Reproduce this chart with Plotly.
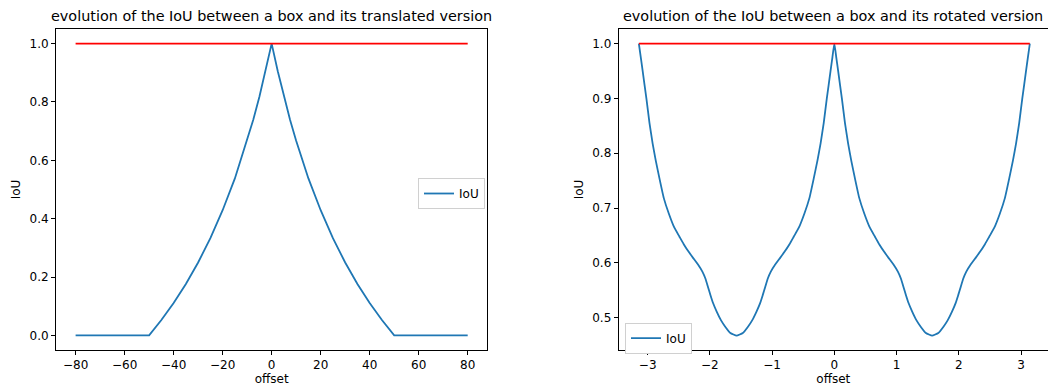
import plotly.graph_objects as go

# ---- data: translated box ----
trans_offset = [-80, -70, -60, -50, -45, -40, -35, -30, -25, -20, -15, -10, -7.5, -5, -2.5, 0,
                2.5, 5, 7.5, 10, 15, 20, 25, 30, 35, 40, 45, 50, 60, 70, 80]
trans_iou = [0.0, 0.0, 0.0, 0.0, 0.053, 0.111, 0.176, 0.25, 0.333, 0.429, 0.538, 0.667, 0.739, 0.818, 0.905, 1.0,
             0.905, 0.818, 0.739, 0.667, 0.538, 0.429, 0.333, 0.25, 0.176, 0.111, 0.053, 0.0, 0.0, 0.0, 0.0]
trans_ref_x = [-80, 80]
trans_ref_y = [1.0, 1.0]

# ---- data: rotated box ----
rot_offset = [-3.142, -3.111, -3.081, -3.021, -2.971, -2.921, -2.871, -2.811, -2.741, -2.661, -2.571, -2.491,
              -2.421, -2.341, -2.271, -2.181, -2.121, -2.071, -2.031, -1.991, -1.951, -1.891, -1.821, -1.751,
              -1.671, -1.571,
              -1.471, -1.391, -1.321, -1.251, -1.191, -1.151, -1.111, -1.071, -1.021, -0.961, -0.871, -0.801,
              -0.721, -0.651, -0.571, -0.481, -0.401, -0.331, -0.271, -0.221, -0.171, -0.121, -0.061, -0.031,
              0.0,
              0.031, 0.061, 0.121, 0.171, 0.221, 0.271, 0.331, 0.401, 0.481, 0.571, 0.651, 0.721, 0.801, 0.871,
              0.961, 1.021, 1.071, 1.111, 1.151, 1.191, 1.251, 1.321, 1.391, 1.471, 1.571,
              1.671, 1.751, 1.821, 1.891, 1.951, 1.991, 2.031, 2.071, 2.121, 2.181, 2.271, 2.341, 2.421, 2.491,
              2.571, 2.661, 2.741, 2.811, 2.871, 2.921, 2.971, 3.021, 3.081, 3.111, 3.142]
rot_iou = [1.000, 0.975, 0.950, 0.900, 0.855, 0.818, 0.787, 0.754, 0.718, 0.690, 0.664, 0.648,
           0.634, 0.620, 0.609, 0.595, 0.584, 0.571, 0.556, 0.541, 0.527, 0.511, 0.495, 0.483,
           0.472, 0.467,
           0.472, 0.483, 0.495, 0.511, 0.527, 0.541, 0.556, 0.571, 0.584, 0.595, 0.609, 0.620,
           0.634, 0.648, 0.664, 0.690, 0.718, 0.754, 0.787, 0.818, 0.855, 0.900, 0.950, 0.975,
           1.000,
           0.975, 0.950, 0.900, 0.855, 0.818, 0.787, 0.754, 0.718, 0.690, 0.664, 0.648, 0.634, 0.620, 0.609,
           0.595, 0.584, 0.571, 0.556, 0.541, 0.527, 0.511, 0.495, 0.483, 0.472, 0.467,
           0.472, 0.483, 0.495, 0.511, 0.527, 0.541, 0.556, 0.571, 0.584, 0.595, 0.609, 0.620, 0.634, 0.648,
           0.664, 0.690, 0.718, 0.754, 0.787, 0.818, 0.855, 0.900, 0.950, 0.975, 1.000]
rot_ref_x = [-3.1416, 3.1416]
rot_ref_y = [1.0, 1.0]

# ---- tick labels ----
left_xticks = [-80, -60, -40, -20, 0, 20, 40, 60, 80]
left_yticks = [0.0, 0.2, 0.4, 0.6, 0.8, 1.0]
right_xticks = [-3, -2, -1, 0, 1, 2, 3]
right_yticks = [0.5, 0.6, 0.7, 0.8, 0.9, 1.0]

titles = ["evolution of the IoU between a box and its translated version",
          "evolution of the IoU between a box and its rotated version"]

BLUE = "#1f77b4"
RED = "#ff0000"
FONT = "DejaVu Sans"
TICK = 12
TITLE = 14.4

fig = go.Figure()
fig.add_trace(go.Scatter(x=trans_offset, y=trans_iou, mode="lines", name="IoU",
                         line=dict(color=BLUE, width=1.8), xaxis="x", yaxis="y", legend="legend"))
fig.add_trace(go.Scatter(x=trans_ref_x, y=trans_ref_y, mode="lines", showlegend=False,
                         line=dict(color=RED, width=1.8), xaxis="x", yaxis="y"))
fig.add_trace(go.Scatter(x=rot_offset, y=rot_iou, mode="lines", name="IoU",
                         line=dict(color=BLUE, width=1.8, shape="spline", smoothing=0.4),
                         xaxis="x2", yaxis="y2", legend="legend2"))
fig.add_trace(go.Scatter(x=rot_ref_x, y=rot_ref_y, mode="lines", showlegend=False,
                         line=dict(color=RED, width=1.8), xaxis="x2", yaxis="y2"))

W, H = 1048, 387
ml, mr, mt, mb = 56, 0, 29, 37
pw = W - ml - mr
ph = H - mt - mb
d1 = [0.0, (487.3 - ml) / pw]
d2 = [(618.7 - ml) / pw, 1.0]

axis_common = dict(showline=True, mirror=True, linecolor="black", linewidth=1,
                   ticks="outside", ticklen=4, tickwidth=1, tickcolor="black",
                   showgrid=False, zeroline=False, automargin=False,
                   tickfont=dict(family=FONT, size=TICK, color="black"))

fig.update_layout(
    width=W, height=H,
    margin=dict(l=ml, r=mr, t=mt, b=mb, autoexpand=False),
    plot_bgcolor="white", paper_bgcolor="white",
    font=dict(family=FONT, size=TICK, color="black"),
    xaxis=dict(domain=d1, range=[-88, 88], tickvals=left_xticks, anchor="y",
               title=dict(text="offset", standoff=0, font=dict(size=TICK)), **axis_common),
    yaxis=dict(domain=[0, 1], range=[-0.05, 1.05], tickvals=left_yticks, tickformat=".1f", anchor="x",
               title=dict(text="IoU", standoff=6, font=dict(size=TICK)), **axis_common),
    xaxis2=dict(domain=d2, range=[-3.466, 3.434], tickvals=right_xticks, anchor="y2",
                title=dict(text="offset", standoff=0, font=dict(size=TICK)), **axis_common),
    yaxis2=dict(domain=[0, 1], range=[0.4409, 1.0266], tickvals=right_yticks, tickformat=".1f", anchor="x2",
                title=dict(text="IoU", standoff=6, font=dict(size=TICK)), **axis_common),
    legend=dict(x=(418 - ml) / pw, y=1 - (178 - mt) / ph, xanchor="left", yanchor="top",
                bgcolor="white", bordercolor="#d0d0d0", borderwidth=1, itemwidth=30,
                font=dict(family=FONT, size=TICK)),
    legend2=dict(x=(625 - ml) / pw, y=1 - (322.7 - mt) / ph, xanchor="left", yanchor="top",
                 bgcolor="white", bordercolor="#d0d0d0", borderwidth=1, itemwidth=30,
                 font=dict(family=FONT, size=TICK)),
    showlegend=True,
)

for dom, t in zip([d1, d2], titles):
    fig.add_annotation(text=t, xref="paper", yref="paper", x=(dom[0] + dom[1]) / 2, y=1,
                       xanchor="center", yanchor="bottom", yshift=3, showarrow=False,
                       font=dict(family=FONT, size=TITLE, color="black"))

fig.write_html("out.html", config={"displayModeBar": False},
               post_script="document.body.style.margin='0';document.body.style.overflow='hidden';")
